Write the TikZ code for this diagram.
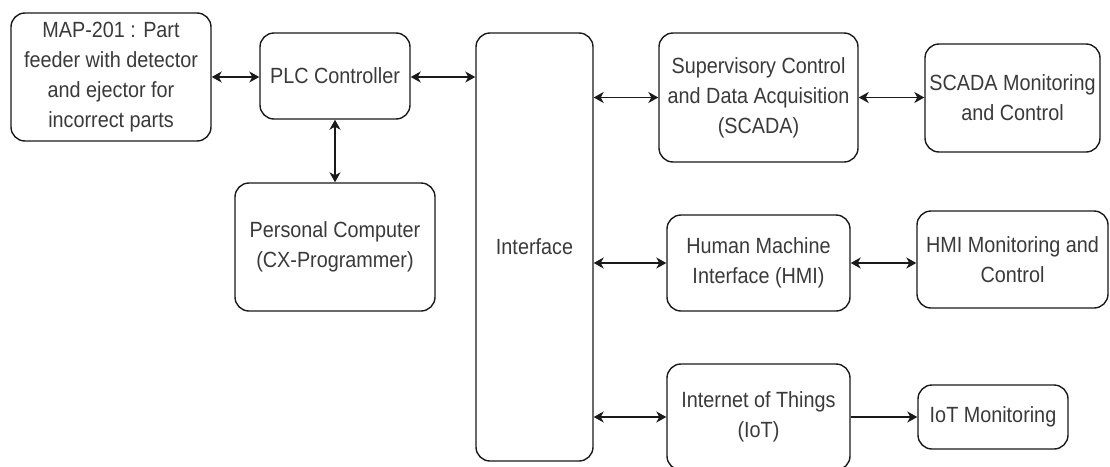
\documentclass[tikz,border=0pt]{standalone}
\usepackage{fontspec}
\setmainfont{Liberation Sans}[FakeStretch=0.9]
\usetikzlibrary{arrows.meta}
\definecolor{inkline}{HTML}{1A1A1A}
\definecolor{inktext}{HTML}{3A3A3A}
\tikzset{
  blockbox/.style={draw=inkline, line width=1.4pt, rounded corners=14pt,
    align=center, text=inktext, inner sep=2pt,
    font=\fontsize{22}{30}\selectfont},
  tip/.tip={Stealth[length=10pt,width=11pt,inset=3pt]},
  biarrow/.style={draw=inkline, line width=1.4pt, tip-tip},
  onearrow/.style={draw=inkline, line width=1.4pt, -tip},
}
\begin{document}
\begin{tikzpicture}[x=1pt,y=-1pt]
\useasboundingbox[fill=white] (0,0) rectangle (1110,466);

% left column: field device, controller and programming PC
\node[blockbox, minimum width=200pt, minimum height=128pt] (map) at (111,77)
  {MAP-201 : Part\\feeder with detector\\and ejector for\\incorrect parts};
\node[blockbox, minimum width=150pt, minimum height=86pt] (plc) at (335,76)
  {PLC Controller};
\node[blockbox, minimum width=200pt, minimum height=128pt] (pc) at (335,247)
  {Personal Computer\\(CX-Programmer)};

% central interface block
\node[blockbox, minimum width=117pt, minimum height=428pt] (iface) at (534.5,247)
  {Interface};

% supervisory systems
\node[blockbox, minimum width=199pt, minimum height=129pt] (scada) at (758.5,97.5)
  {Supervisory Control\\and Data Acquisition\\(SCADA)};
\node[blockbox, minimum width=175pt, minimum height=108pt] (scadamon) at (1012.5,98)
  {SCADA Monitoring\\and Control};

\node[blockbox, minimum width=183pt, minimum height=96pt] (hmi) at (758.5,263)
  {Human Machine\\Interface (HMI)};
\node[blockbox, minimum width=191pt, minimum height=97pt] (hmimon) at (1012.5,259.5)
  {HMI Monitoring and\\Control};

\node[blockbox, minimum width=183pt, minimum height=106pt] (iot) at (758.5,417)
  {Internet of Things\\(IoT)};
\node[blockbox, minimum width=150pt, minimum height=64pt] (iotmon) at (993,417)
  {IoT Monitoring};

% connections
\draw[biarrow] (map.east) -- (plc.west |- map.east);
\draw[biarrow] (plc.east |- map.east) -- (iface.west |- map.east);
\draw[biarrow] (plc.south) -- (pc.north);
\draw[biarrow] (iface.east |- scada.west) -- (scada.west);
\draw[biarrow] (scada.east) -- (scadamon.west |- scada.east);
\draw[biarrow] (iface.east |- hmi.west) -- (hmi.west);
\draw[biarrow] (hmi.east) -- (hmimon.west |- hmi.east);
\draw[biarrow] (iface.east |- iot.west) -- (iot.west);
\draw[onearrow] (iot.east) -- (iotmon.west);
\end{tikzpicture}
\end{document}
